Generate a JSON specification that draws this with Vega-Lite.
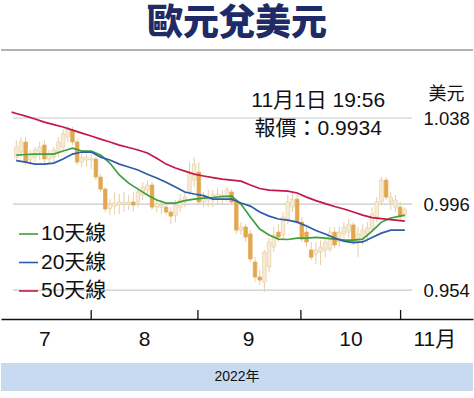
{
  "$schema": "https://vega.github.io/schema/vega-lite/v6.json",
  "padding": {"left": 0, "top": 6, "right": 2, "bottom": 0},
  "background": "white",
  "config": {
    "view": {"stroke": null},
    "font": "Liberation Sans, Noto Sans CJK TC, sans-serif"
  },
  "title": {"text": "歐元兌美元", "fontSize": 36, "fontWeight": 900, "font": "Noto Sans CJK TC", "color": "#1f2b66", "anchor": "middle", "offset": 6},
  "datasets": {
    "candles": [
      {"k":-16,"o":1.0189,"h":1.0272,"l":1.0165,"c":1.0238},
      {"k":-15,"o":1.0214,"h":1.0287,"l":1.0189,"c":1.0263},
      {"k":-14,"o":1.0263,"h":1.0287,"l":1.0150,"c":1.0165},
      {"k":-13,"o":1.0175,"h":1.0224,"l":1.0150,"c":1.0204},
      {"k":-12,"o":1.0189,"h":1.0238,"l":1.0165,"c":1.0224},
      {"k":-11,"o":1.0214,"h":1.0263,"l":1.0175,"c":1.0238},
      {"k":-10,"o":1.0248,"h":1.0272,"l":1.0155,"c":1.0180},
      {"k":-9,"o":1.0180,"h":1.0224,"l":1.0155,"c":1.0204},
      {"k":-8,"o":1.0189,"h":1.0238,"l":1.0165,"c":1.0224},
      {"k":-7,"o":1.0214,"h":1.0287,"l":1.0189,"c":1.0263},
      {"k":-6,"o":1.0238,"h":1.0326,"l":1.0224,"c":1.0302},
      {"k":-5,"o":1.0287,"h":1.0341,"l":1.0263,"c":1.0326},
      {"k":-4,"o":1.0321,"h":1.0336,"l":1.0248,"c":1.0263},
      {"k":-3,"o":1.0263,"h":1.0277,"l":1.0150,"c":1.0165},
      {"k":-2,"o":1.0165,"h":1.0214,"l":1.0141,"c":1.0189},
      {"k":-1,"o":1.0175,"h":1.0204,"l":1.0141,"c":1.0189},
      {"k":0,"o":1.0175,"h":1.0204,"l":1.0131,"c":1.0180},
      {"k":1,"o":1.0180,"h":1.0189,"l":1.0077,"c":1.0092},
      {"k":2,"o":1.0092,"h":1.0106,"l":1.0019,"c":1.0033},
      {"k":3,"o":1.0033,"h":1.0043,"l":0.9921,"c":0.9936},
      {"k":4,"o":0.9936,"h":0.9984,"l":0.9906,"c":0.9960},
      {"k":5,"o":0.9950,"h":1.0019,"l":0.9911,"c":0.9965},
      {"k":6,"o":0.9955,"h":1.0009,"l":0.9911,"c":0.9970},
      {"k":7,"o":0.9960,"h":1.0019,"l":0.9921,"c":0.9970},
      {"k":8,"o":0.9960,"h":1.0004,"l":0.9931,"c":0.9970},
      {"k":9,"o":0.9970,"h":1.0019,"l":0.9921,"c":0.9955},
      {"k":10,"o":0.9970,"h":1.0043,"l":0.9945,"c":1.0019},
      {"k":11,"o":1.0004,"h":1.0067,"l":0.9980,"c":1.0043},
      {"k":12,"o":1.0028,"h":1.0077,"l":1.0004,"c":1.0053},
      {"k":13,"o":1.0053,"h":1.0067,"l":0.9931,"c":0.9945},
      {"k":14,"o":0.9945,"h":0.9980,"l":0.9921,"c":0.9960},
      {"k":15,"o":0.9945,"h":0.9980,"l":0.9911,"c":0.9955},
      {"k":16,"o":0.9945,"h":0.9970,"l":0.9906,"c":0.9921},
      {"k":17,"o":0.9921,"h":0.9945,"l":0.9862,"c":0.9901},
      {"k":18,"o":0.9906,"h":0.9980,"l":0.9872,"c":0.9955},
      {"k":19,"o":0.9945,"h":1.0009,"l":0.9921,"c":0.9980},
      {"k":20,"o":0.9970,"h":1.0019,"l":0.9945,"c":0.9994},
      {"k":21,"o":1.0019,"h":1.0165,"l":1.0004,"c":1.0106},
      {"k":22,"o":1.0077,"h":1.0189,"l":1.0043,"c":1.0155},
      {"k":23,"o":1.0116,"h":1.0165,"l":0.9960,"c":0.9970},
      {"k":24,"o":0.9970,"h":1.0019,"l":0.9945,"c":0.9994},
      {"k":25,"o":0.9980,"h":1.0028,"l":0.9945,"c":0.9994},
      {"k":26,"o":0.9980,"h":1.0028,"l":0.9945,"c":1.0004},
      {"k":27,"o":0.9989,"h":1.0038,"l":0.9955,"c":1.0009},
      {"k":28,"o":0.9989,"h":1.0028,"l":0.9955,"c":1.0004},
      {"k":29,"o":0.9984,"h":1.0043,"l":0.9970,"c":1.0028},
      {"k":30,"o":1.0019,"h":1.0033,"l":0.9955,"c":0.9970},
      {"k":31,"o":0.9970,"h":0.9980,"l":0.9814,"c":0.9833},
      {"k":32,"o":0.9833,"h":0.9872,"l":0.9809,"c":0.9848},
      {"k":33,"o":0.9848,"h":0.9862,"l":0.9775,"c":0.9799},
      {"k":34,"o":0.9814,"h":0.9833,"l":0.9677,"c":0.9692},
      {"k":35,"o":0.9677,"h":0.9701,"l":0.9579,"c":0.9604},
      {"k":36,"o":0.9604,"h":0.9638,"l":0.9565,"c":0.9589},
      {"k":37,"o":0.9579,"h":0.9736,"l":0.9531,"c":0.9726},
      {"k":38,"o":0.9653,"h":0.9794,"l":0.9628,"c":0.9775},
      {"k":39,"o":0.9750,"h":0.9848,"l":0.9726,"c":0.9809},
      {"k":40,"o":0.9823,"h":0.9862,"l":0.9775,"c":0.9799},
      {"k":41,"o":0.9809,"h":0.9921,"l":0.9784,"c":0.9897},
      {"k":42,"o":0.9887,"h":1.0004,"l":0.9862,"c":0.9970},
      {"k":43,"o":0.9945,"h":1.0019,"l":0.9921,"c":0.9984},
      {"k":44,"o":0.9984,"h":1.0004,"l":0.9862,"c":0.9872},
      {"k":45,"o":0.9872,"h":0.9897,"l":0.9775,"c":0.9789},
      {"k":46,"o":0.9823,"h":0.9848,"l":0.9750,"c":0.9775},
      {"k":47,"o":0.9736,"h":0.9775,"l":0.9687,"c":0.9701},
      {"k":48,"o":0.9716,"h":0.9775,"l":0.9667,"c":0.9736},
      {"k":49,"o":0.9726,"h":0.9784,"l":0.9662,"c":0.9750},
      {"k":50,"o":0.9736,"h":0.9799,"l":0.9701,"c":0.9775},
      {"k":51,"o":0.9740,"h":0.9848,"l":0.9726,"c":0.9823},
      {"k":52,"o":0.9823,"h":0.9848,"l":0.9745,"c":0.9760},
      {"k":53,"o":0.9775,"h":0.9853,"l":0.9750,"c":0.9823},
      {"k":54,"o":0.9814,"h":0.9872,"l":0.9784,"c":0.9848},
      {"k":55,"o":0.9823,"h":0.9887,"l":0.9794,"c":0.9862},
      {"k":56,"o":0.9858,"h":0.9872,"l":0.9760,"c":0.9775},
      {"k":57,"o":0.9775,"h":0.9848,"l":0.9701,"c":0.9814},
      {"k":58,"o":0.9799,"h":0.9862,"l":0.9760,"c":0.9833},
      {"k":59,"o":0.9814,"h":0.9872,"l":0.9775,"c":0.9843},
      {"k":60,"o":0.9838,"h":0.9945,"l":0.9823,"c":0.9911},
      {"k":61,"o":0.9897,"h":0.9994,"l":0.9872,"c":0.9970},
      {"k":62,"o":0.9970,"h":1.0092,"l":0.9955,"c":1.0077},
      {"k":63,"o":1.0077,"h":1.0092,"l":0.9980,"c":0.9994},
      {"k":64,"o":0.9970,"h":1.0019,"l":0.9931,"c":0.9994},
      {"k":65,"o":0.9945,"h":1.0004,"l":0.9921,"c":0.9980},
      {"k":66,"o":0.9945,"h":0.9970,"l":0.9882,"c":0.9897},
      {"k":67,"o":0.9906,"h":0.9945,"l":0.9892,"c":0.9934}
    ],
    "ma": [
      {"k":-17,"50天線":1.0409},
      {"k":-16,"10天線":1.0199,"20天線":1.0172,"50天線":1.0402},
      {"k":-14,"10天線":1.0202,"20天線":1.0165,"50天線":1.0389},
      {"k":-12,"10天線":1.0204,"20天線":1.0155,"50天線":1.0375},
      {"k":-10,"10天線":1.0204,"20天線":1.0155,"50天線":1.0360},
      {"k":-8,"10天線":1.0204,"20天線":1.0160,"50天線":1.0348},
      {"k":-6,"10天線":1.0219,"20天線":1.0180,"50天線":1.0336},
      {"k":-4,"10天線":1.0233,"20天線":1.0204,"50天線":1.0321},
      {"k":-2,"10天線":1.0219,"20天線":1.0214,"50天線":1.0306},
      {"k":0,"10天線":1.0219,"20天線":1.0214,"50天線":1.0292},
      {"k":2,"10天線":1.0199,"20天線":1.0189,"50天線":1.0277},
      {"k":4,"10天線":1.0160,"20天線":1.0175,"50天線":1.0263},
      {"k":6,"10天線":1.0102,"20天線":1.0155,"50天線":1.0248},
      {"k":8,"10天線":1.0062,"20天線":1.0141,"50天線":1.0236},
      {"k":10,"10天線":1.0033,"20天線":1.0126,"50天線":1.0224},
      {"k":12,"10天線":1.0004,"20天線":1.0106,"50天線":1.0209},
      {"k":14,"10天線":0.9980,"20天線":1.0087,"50天線":1.0184},
      {"k":16,"10天線":0.9965,"20天線":1.0067,"50天線":1.0155},
      {"k":18,"10天線":0.9965,"20天線":1.0043,"50天線":1.0136},
      {"k":20,"10天線":0.9977,"20天線":1.0019,"50天線":1.0121},
      {"k":22,"10天線":0.9984,"20天線":1.0009,"50天線":1.0106},
      {"k":24,"10天線":0.9989,"20天線":1.0001,"50天線":1.0097},
      {"k":26,"10天線":0.9992,"20天線":0.9984,"50天線":1.0089},
      {"k":28,"10天線":0.9997,"20天線":0.9984,"50天線":1.0082},
      {"k":30,"10天線":0.9999,"20天線":0.9984,"50天線":1.0077},
      {"k":32,"10天線":0.9960,"20天線":0.9965,"50天線":1.0072},
      {"k":34,"10天線":0.9897,"20天線":0.9950,"50天線":1.0053},
      {"k":36,"10天線":0.9838,"20天線":0.9921,"50天線":1.0036},
      {"k":38,"10天線":0.9809,"20天線":0.9901,"50天線":1.0028},
      {"k":40,"10天線":0.9789,"20天線":0.9887,"50天線":1.0026},
      {"k":42,"10天線":0.9787,"20天線":0.9882,"50天線":1.0023},
      {"k":44,"10天線":0.9794,"20天線":0.9872,"50天線":1.0014},
      {"k":46,"10天線":0.9794,"20天線":0.9853,"50天線":0.9994},
      {"k":48,"10天線":0.9797,"20天線":0.9831,"50天線":0.9977},
      {"k":50,"10天線":0.9794,"20天線":0.9814,"50天線":0.9962},
      {"k":52,"10天線":0.9789,"20天線":0.9794,"50天線":0.9948},
      {"k":54,"10天線":0.9784,"20天線":0.9779,"50天線":0.9936},
      {"k":56,"10天線":0.9784,"20天線":0.9772,"50天線":0.9921},
      {"k":58,"10天線":0.9789,"20天線":0.9775,"50天線":0.9906},
      {"k":60,"10天線":0.9828,"20天線":0.9797,"50天線":0.9894},
      {"k":62,"10天線":0.9872,"20天線":0.9818,"50天線":0.9889},
      {"k":64,"10天線":0.9892,"20天線":0.9833,"50天線":0.9884},
      {"k":66,"10天線":0.9901,"20天線":0.9833,"50天線":0.9879},
      {"k":67,"10天線":0.9906,"20天線":0.9833,"50天線":0.9877}
    ]
  },
  "vconcat": [
    {
      "width": 472,
      "height": 269,
      "layer": [
        {
          "data": {"values": [{"k": 0}, {"k": 22.8}, {"k": 44.8}, {"k": 66.1}]},
          "mark": {"type": "rule", "color": "#111", "strokeWidth": 1.3},
          "encoding": {
            "x": {
              "field": "k", "type": "quantitative",
              "scale": {"domain": [-18.2, 80.5], "nice": false, "zero": false},
              "axis": {
                "values": [-10, 11.3, 33.5, 55.4, 73.3],
                "labelExpr": "datum.value < 0 ? '7' : datum.value < 20 ? '8' : datum.value < 40 ? '9' : datum.value < 60 ? '10' : '11月'",
                "title": null, "ticks": false, "grid": false,
                "domainColor": "#111", "domainWidth": 1.5,
                "labelFontSize": 21, "labelColor": "#111", "labelPadding": 9,
                "labelFlush": false, "labelOverlap": false
              }
            },
            "y": {
              "datum": 0.9399, "type": "quantitative",
              "scale": {"domain": [0.9399, 1.0712], "nice": false, "zero": false},
              "axis": {
                "orient": "right", "offset": -50,
                "values": [0.954, 0.996, 1.038], "format": ".3f",
                "ticks": false, "tickSize": 0, "domain": false, "grid": false,
                "labelFontSize": 18.5, "labelColor": "#111", "labelPadding": 0,
                "labelAlign": "left", "labelBaseline": "middle",
                "title": "美元", "titleAngle": 0, "titleFontSize": 18, "titleFontWeight": "normal",
                "titleColor": "#111", "titleAlign": "left", "titleBaseline": "middle",
                "titleX": 5, "titleY": 44
              }
            },
            "y2": {"datum": 0.9443}
          }
        },
        {
          "data": {"values": [{"v": 0.954}, {"v": 0.996}, {"v": 1.038}]},
          "mark": {"type": "rule", "color": "#c9c9c9", "strokeWidth": 1.2},
          "encoding": {
            "x": {"datum": -16.7, "type": "quantitative"},
            "x2": {"datum": 68.6},
            "y": {"field": "v", "type": "quantitative"}
          }
        },
        {
          "data": {"values": [{"top": 1.0712}]},
          "mark": {"type": "rule", "color": "#9a9a9a", "strokeWidth": 1.5},
          "encoding": {
            "y": {"field": "top", "type": "quantitative"}
          }
        },
        {
          "data": {"name": "candles"},
          "mark": {"type": "rule", "color": "#e6cfa4", "strokeWidth": 1},
          "encoding": {
            "x": {"field": "k", "type": "quantitative"},
            "y": {"field": "l", "type": "quantitative"},
            "y2": {"field": "h"}
          }
        },
        {
          "data": {"name": "candles"},
          "mark": {"type": "bar", "width": 3.6, "strokeWidth": 0.7, "orient": "vertical"},
          "encoding": {
            "x": {"field": "k", "type": "quantitative"},
            "y": {"field": "o", "type": "quantitative"},
            "y2": {"field": "c"},
            "fill": {"condition": {"test": "datum.o > datum.c", "value": "#e3a74f"}, "value": "#f6ebd6"},
            "stroke": {"condition": {"test": "datum.o > datum.c", "value": "#e3a74f"}, "value": "#e8d1a6"}
          }
        },
        {
          "data": {"name": "ma"},
          "transform": [{"fold": ["10天線", "20天線", "50天線"], "as": ["series", "v"]}],
          "mark": {"type": "line", "strokeWidth": 1.7},
          "encoding": {
            "x": {"field": "k", "type": "quantitative"},
            "y": {"field": "v", "type": "quantitative"},
            "color": {
              "field": "series", "type": "nominal",
              "scale": {"domain": ["10天線", "20天線", "50天線"], "range": ["#3f9f3c", "#2c5caa", "#c4184c"]},
              "legend": {
                "orient": "none", "legendX": 17, "legendY": 173.5, "title": null,
                "symbolType": "stroke", "symbolSize": 361, "symbolStrokeWidth": 1.6,
                "labelFontSize": 21, "labelColor": "#111", "labelOffset": 2,
                "rowPadding": 6.5, "padding": 0, "direction": "vertical"
              }
            }
          }
        },
        {
          "data": {"values": [
            {"k": 48.5, "p": 1.0463, "t": "11月1日 19:56"},
            {"k": 48.5, "p": 1.0326, "t": "報價：0.9934"}
          ]},
          "mark": {"type": "text", "fontSize": 21, "color": "#111", "align": "center", "baseline": "middle"},
          "encoding": {
            "x": {"field": "k", "type": "quantitative"},
            "y": {"field": "p", "type": "quantitative"},
            "text": {"field": "t"}
          }
        }
      ]
    },
    {
      "width": 472,
      "height": 28,
      "view": {"fill": "#c7daf0", "stroke": null},
      "data": {"values": [{"label": "2022年"}]},
      "mark": {"type": "text", "fontSize": 14, "color": "#111"},
      "encoding": {"text": {"field": "label"}}
    }
  ],
  "spacing": 14
}
